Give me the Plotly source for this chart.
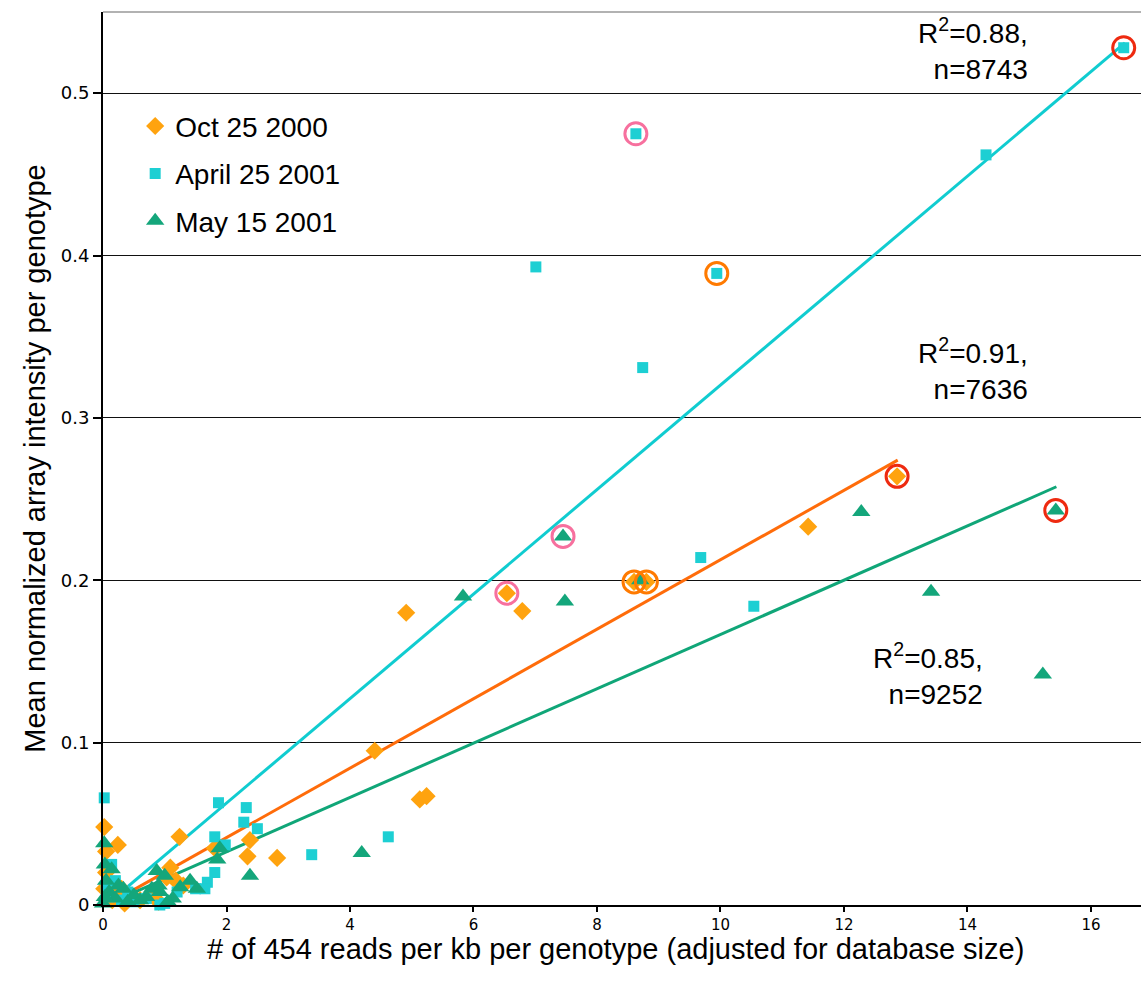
import plotly.graph_objects as go

# ---------------- data ----------------
oct_x = [12.86, 11.42, 8.60, 8.80, 6.54, 6.79, 4.91, 4.40, 5.13, 5.24, 2.38, 2.34, 2.82, 1.81,
         0.02, 0.24, 0.05, 1.24, 1.09, 1.18, 1.03,
         0.05, 0.10, 0.20, 0.30, 0.45, 0.60, 0.80, 0.90, 1.30, 0.15, 0.02, 0.35]
oct_y = [0.264, 0.233, 0.199, 0.199, 0.192, 0.181, 0.180, 0.095, 0.065, 0.067, 0.040, 0.030, 0.029, 0.035,
         0.048, 0.037, 0.033, 0.042, 0.023, 0.015, 0.017,
         0.020, 0.012, 0.008, 0.010, 0.005, 0.003, 0.006, 0.002, 0.012, 0.003, 0.010, 0.001]

apr_x = [16.53, 14.30, 8.63, 9.94, 7.01, 8.74, 9.68, 10.54, 4.62, 3.38,
         1.87, 2.32, 2.28, 2.50, 1.81, 1.98, 1.81, 1.69, 1.65,
         0.02, 0.14, 0.92,
         0.05, 0.10, 0.30, 0.50, 0.70, 1.00, 1.20, 1.50, 0.20, 0.40]
apr_y = [0.528, 0.462, 0.475, 0.389, 0.393, 0.331, 0.214, 0.184, 0.042, 0.031,
         0.063, 0.060, 0.051, 0.047, 0.042, 0.037, 0.020, 0.014, 0.010,
         0.066, 0.025, 0.000,
         0.010, 0.005, 0.003, 0.002, 0.004, 0.001, 0.008, 0.010, 0.015, 0.008]

may_x = [15.43, 12.28, 13.41, 15.22, 7.45, 7.48, 5.83, 8.70, 4.19,
         1.89, 1.85, 2.38,
         0.02, 0.03, 0.87, 1.41, 1.52, 1.25, 1.13, 0.33, 0.14, 0.79, 0.92,
         0.05, 0.10, 0.20, 0.25, 0.40, 0.50, 0.60, 0.70, 0.90, 1.00, 1.05, 0.00, 0.03]
may_y = [0.243, 0.242, 0.193, 0.142, 0.227, 0.187, 0.190, 0.200, 0.032,
         0.035, 0.028, 0.018,
         0.038, 0.025, 0.021, 0.015, 0.010, 0.011, 0.004, 0.010, 0.022, 0.010, 0.008,
         0.015, 0.008, 0.004, 0.012, 0.002, 0.006, 0.003, 0.005, 0.012, 0.018, 0.002, 0.001, 0.005]

# trend lines (endpoints)
apr_fit_x = [0.05, 16.55]
apr_fit_y = [0.000, 0.531]
oct_fit_x = [0.20, 12.87]
oct_fit_y = [0.003, 0.274]
may_fit_x = [0.10, 15.44]
may_fit_y = [0.001, 0.2576]

# highlighted points
red_x = [16.53, 12.86, 15.43]
red_y = [0.528, 0.264, 0.243]
orange_x = [9.94, 8.60, 8.80]
orange_y = [0.389, 0.199, 0.199]
pink_x = [8.63, 7.45, 6.54]
pink_y = [0.475, 0.227, 0.192]

series_names = ["Oct 25 2000", "April 25 2001", "May 15 2001"]
ann_texts = ["R<sup>2</sup>=0.88,<br>n=8743", "R<sup>2</sup>=0.91,<br>n=7636", "R<sup>2</sup>=0.85,<br>n=9252"]
ann_x = [15.02, 15.02, 14.29]
ann_y = [0.527, 0.330, 0.142]

x_title = "# of 454 reads per kb per genotype (adjusted for database size)"
y_title = "Mean normalized array intensity per genotype"

x_ticks = [0, 2, 4, 6, 8, 10, 12, 14, 16]
y_ticks = [0, 0.1, 0.2, 0.3, 0.4, 0.5]
y_tick_labels = ["0", "0.1", "0.2", "0.3", "0.4", "0.5"]

# ---------------- figure ----------------
fig = go.Figure()

C_ORANGE = "#FFA30F"
C_CYAN = "#1DCFD3"
C_GREEN = "#14A67B"
ARIAL = "Liberation Sans, Arial"

# lines
fig.add_trace(go.Scatter(x=apr_fit_x, y=apr_fit_y, mode="lines", line=dict(color="#10CCD0", width=3),
                         showlegend=False, hoverinfo="skip"))
fig.add_trace(go.Scatter(x=oct_fit_x, y=oct_fit_y, mode="lines", line=dict(color="#FF6C0A", width=3),
                         showlegend=False, hoverinfo="skip"))
fig.add_trace(go.Scatter(x=may_fit_x, y=may_fit_y, mode="lines", line=dict(color="#10A678", width=3),
                         showlegend=False, hoverinfo="skip"))

fig.add_trace(go.Scatter(x=oct_x, y=oct_y, mode="markers", name=series_names[0], legendgroup="a",
                         marker=dict(symbol="diamond", size=14, color=C_ORANGE, line=dict(width=0)),
                         cliponaxis=False))
fig.add_trace(go.Scatter(x=apr_x, y=apr_y, mode="markers", name=series_names[1], legendgroup="b",
                         marker=dict(symbol="square", size=11, color=C_CYAN, line=dict(width=0)),
                         cliponaxis=False))
fig.add_trace(go.Scatter(x=may_x, y=may_y, mode="markers", name=series_names[2], legendgroup="c",
                         marker=dict(symbol="triangle-up", size=16, color=C_GREEN, line=dict(width=0)),
                         cliponaxis=False))

fig.add_trace(go.Scatter(x=red_x, y=red_y, mode="markers", showlegend=False, hoverinfo="skip",
                         marker=dict(symbol="circle-open", size=22, color="#EE2A10", line=dict(width=3)),
                         cliponaxis=False))
fig.add_trace(go.Scatter(x=orange_x, y=orange_y, mode="markers", showlegend=False, hoverinfo="skip",
                         marker=dict(symbol="circle-open", size=22, color="#FF7A00", line=dict(width=3)),
                         cliponaxis=False))
fig.add_trace(go.Scatter(x=pink_x, y=pink_y, mode="markers", showlegend=False, hoverinfo="skip",
                         marker=dict(symbol="circle-open", size=22, color="#F7709E", line=dict(width=3)),
                         cliponaxis=False))

for t, ax_, ay_ in zip(ann_texts, ann_x, ann_y):
    fig.add_annotation(x=ax_, y=ay_, xref="x", yref="y", text=t, showarrow=False,
                       xanchor="right", yanchor="middle", align="right",
                       font=dict(family=ARIAL, size=28, color="black"))

# x-axis title placed as paper annotation
fig.add_annotation(x=0.494, y=-0.049, xref="paper", yref="paper", text=x_title, showarrow=False,
                   xanchor="center", yanchor="middle",
                   font=dict(family=ARIAL, size=29, color="black"))

# top border
fig.add_shape(type="line", xref="paper", yref="paper", x0=0, x1=1, y0=1, y1=1,
              line=dict(color="#999999", width=1.5))

fig.update_layout(
    width=1141, height=988,
    margin=dict(l=103, r=0, t=12, b=83),
    paper_bgcolor="white", plot_bgcolor="white",
    font=dict(family=ARIAL, color="black"),
    legend=dict(x=0.031, y=0.9, xanchor="left", yanchor="top",
                font=dict(family=ARIAL, size=28, color="black"),
                bgcolor="rgba(0,0,0,0)", tracegroupgap=8, traceorder="grouped",
                itemwidth=30),
    xaxis=dict(range=[0, 16.81], tickvals=x_ticks, ticktext=[str(v) for v in x_ticks],
               showgrid=False, zeroline=False, showline=True, linecolor="black", linewidth=2,
               ticks="outside", ticklen=5, tickwidth=1.5, tickcolor="black",
               tickfont=dict(family="DejaVu Sans, Verdana", size=15, color="black")),
    yaxis=dict(range=[0, 0.55], tickvals=y_ticks, ticktext=y_tick_labels,
               showgrid=True, gridcolor="#111111", gridwidth=1.2, zeroline=False,
               showline=True, linecolor="black", linewidth=2,
               ticks="outside", ticklen=8, tickwidth=1.5, tickcolor="black",
               tickfont=dict(family="DejaVu Sans, Verdana", size=18, color="black"),
               title=dict(text=y_title,
                          font=dict(family=ARIAL, size=29, color="black"),
                          standoff=7)),
)

fig.write_html("out.html")
